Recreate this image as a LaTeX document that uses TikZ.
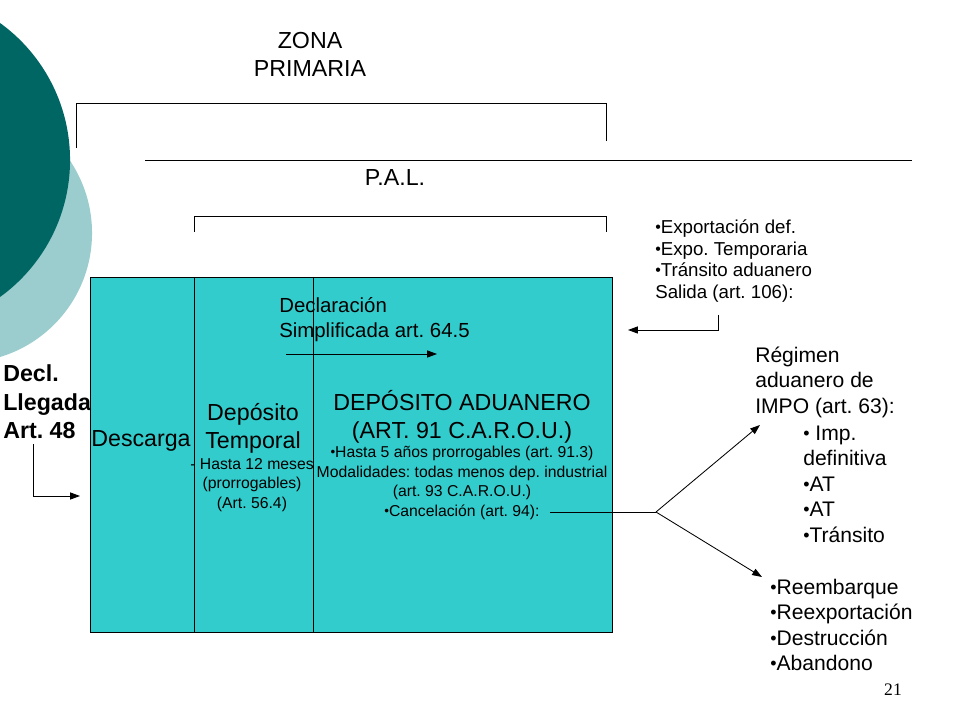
\documentclass[tikz,border=0pt]{standalone}
\usepackage{fontspec}
\setmainfont{Liberation Sans}
\newfontfamily\numfont{Liberation Serif}
\usetikzlibrary{arrows.meta,positioning,calc}

\definecolor{darkteal}{RGB}{0,102,100}
\definecolor{lightteal}{RGB}{155,205,206}
\definecolor{boxcyan}{RGB}{51,204,204}

% small bullet as in the slide
\newcommand{\smbul}{\raisebox{0.05em}{\scalebox{0.85}{•}}}

\tikzset{
  bigtext/.style={font=\fontsize{16.5}{20}\selectfont, inner sep=0pt, align=center},
  midtext/.style={font=\fontsize{14.5}{17.8}\selectfont, inner sep=0pt, align=left},
  listtext/.style={font=\fontsize{13.3}{15.4}\selectfont, inner sep=0pt, align=left},
  smalltext/.style={font=\fontsize{11.2}{14}\selectfont, inner sep=0pt, align=center},
  thinline/.style={line width=0.6pt},
  arr/.style={thinline, -{Triangle[length=7pt,width=5pt]}},
}

\begin{document}
\frenchspacing
\begin{tikzpicture}[x=0.025cm, y=-0.025cm]
\useasboundingbox (0,0) rectangle (960,720);

% Background circles
\begin{scope}
  \clip (0,0) rectangle (960,720);
  \fill[lightteal] (-37.5,233) circle [radius=3.2375cm];
  \fill[darkteal] (-99,160) circle [radius=4.225cm];
\end{scope}

% Zona primaria and P.A.L.
\node[bigtext] (zona) at (310,54) {ZONA\\PRIMARIA};
\draw[thinline] (76,148) |- (606,103) -- (606,141);
\draw[thinline] (145,160) -- (912,160);
\node[bigtext] (pal) at (395,178) {P.A.L.};
\draw[thinline] (194,232) |- (606,216) -- (606,232);

% Main box with three columns
\fill[boxcyan, draw=black, thinline] (90,277) rectangle (612,632);
\draw[thinline] (194,277) -- (194,632);
\draw[thinline] (313,277) -- (313,632);

\node[bigtext] (descarga) at (141,441) {Descarga};
\node[bigtext] (deptemp) at (253,428) {Depósito\\Temporal};
\node[smalltext] (plazo) at (252,485) {- Hasta 12 meses\\(prorrogables)\\(Art. 56.4)};
\node[bigtext] (depadu) at (462,417) {DEPÓSITO ADUANERO\\(ART. 91 C.A.R.O.U.)};
\node[smalltext] (depinfo) at (462,483) {\smbul Hasta 5 años prorrogables (art. 91.3)\\Modalidades: todas menos dep. industrial\\(art. 93 C.A.R.O.U.)\\\smbul Cancelación (art. 94):};

% Declaracion simplificada
\node[midtext, anchor=west] (declsimp) at (279,320) {Declaración\\Simplificada art. 64.5};
\coordinate (simpa) at (286,354);
\coordinate (simpb) at (437,354);
\draw[arr] (simpa) -- (simpb);

% Llegada
\node[bigtext, font=\fontsize{16.5}{20.3}\bfseries, align=left, anchor=west] (decl) at (3,402) {Decl.\\Llegada\\Art. 48};
\coordinate (declfoot) at (33,444);
\coordinate (boxin) at (80,496);
\draw[arr] (declfoot) |- (boxin);

% Salida
\node[listtext, anchor=west] (salida) at (655,261) {\smbul Exportación def.\\\smbul Expo. Temporaria\\\smbul Tránsito aduanero\\Salida (art. 106):};
\coordinate (salfoot) at (718,315);
\coordinate (salin) at (628,330);
\draw[arr] (salfoot) |- (salin);

% Cancelacion: fork to the two outcomes
\coordinate (cancel) at (550,512);
\coordinate (fork) at (656,512);
\coordinate (toimpo) at (760,425);
\coordinate (toreemb) at (762,577);
\draw[thinline] (cancel) -- (fork);
\draw[arr] (fork) -- (toimpo);
\draw[arr] (fork) -- (toreemb);

\node[midtext, font=\fontsize{15}{18.1}\selectfont, anchor=west] (regimen) at (755,382) {Régimen\\aduanero de\\IMPO (art. 63):};
\node[midtext, font=\fontsize{15}{18.1}\selectfont, anchor=west] (impo) at (803,484) {\smbul{} Imp.\\definitiva\\\smbul AT\\\smbul AT\\\smbul Tránsito};
\node[midtext, font=\fontsize{15}{18.1}\selectfont, anchor=west] (reemb) at (770,625) {\smbul Reembarque\\\smbul Reexportación\\\smbul Destrucción\\\smbul Abandono};

% Page number
\node[font=\numfont\fontsize{12.5}{14}\selectfont, inner sep=0pt] (pagenum) at (893,690) {21};

\end{tikzpicture}
\end{document}
